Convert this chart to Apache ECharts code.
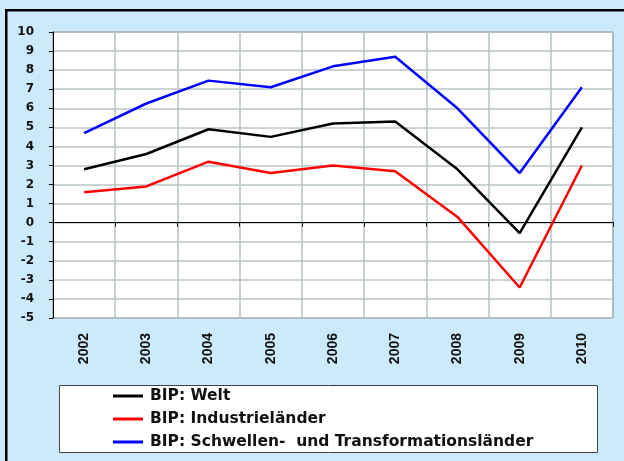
<!DOCTYPE html>
<html>
<head>
<meta charset="utf-8">
<script src="https://cdn.jsdelivr.net/npm/echarts@6/dist/echarts.min.js"></script>
<style>
  html, body { margin: 0; padding: 0; background: #cdeafc; }
  #chart { width: 624px; height: 461px; }
</style>
</head>
<body>
<div id="chart"></div>
<script>
// Jahre und BIP-Wachstum in %
const years = ['2002', '2003', '2004', '2005', '2006', '2007', '2008', '2009', '2010'];
const welt = [2.8, 3.6, 4.9, 4.5, 5.2, 5.3, 2.8, -0.55, 5.0];
const industrie = [1.6, 1.9, 3.2, 2.6, 3.0, 2.7, 0.3, -3.4, 3.0];
const schwellen = [4.7, 6.25, 7.45, 7.1, 8.2, 8.7, 6.0, 2.6, 7.1];
const names = ['BIP: Welt', 'BIP: Industrieländer', 'BIP: Schwellen-  und Transformationsländer'];

const chart = echarts.init(document.getElementById('chart'));

const wide = { fontFamily: 'DejaVu Sans, Verdana, sans-serif', fontWeight: 'bold', color: '#111' };
const narrow = { fontFamily: 'Liberation Sans, Arial, sans-serif', fontWeight: 'bold', color: '#111' };

const option = {
  backgroundColor: '#cdeafc',
  animation: false,
  grid: {
    left: 53, top: 32, right: 11, bottom: 143,
    show: true, backgroundColor: '#fff', borderColor: '#555', borderWidth: 1
  },
  xAxis: [
    {
      type: 'category', data: years, boundaryGap: true,
      axisLine: { onZero: true, lineStyle: { color: '#000', width: 1 } },
      axisTick: { show: true, length: 4, lineStyle: { color: '#000' } },
      axisLabel: { show: false },
      splitLine: { show: true, lineStyle: { color: '#b5c3c0', width: 1.5 } }
    },
    {
      // zweite Achse nur für die Beschriftung unten
      type: 'category', data: years, boundaryGap: true, position: 'bottom',
      axisLine: { show: false, onZero: false },
      axisTick: { show: false },
      splitLine: { show: false },
      axisLabel: Object.assign({ rotate: 90, fontSize: 14, margin: 15 }, narrow)
    }
  ],
  yAxis: {
    type: 'value', min: -5, max: 10, interval: 1,
    axisLine: { show: true, lineStyle: { color: '#000', width: 1 } },
    axisTick: { show: true, length: 4, lineStyle: { color: '#000' } },
    axisLabel: Object.assign({ fontSize: 12, margin: 19 }, wide),
    splitLine: { lineStyle: { color: '#b9c6c6', width: 1.5 } }
  },
  legend: {
    orient: 'vertical', left: 113, top: 388, padding: 0,
    itemWidth: 30, itemHeight: 3, itemGap: 7,
    icon: 'rect',
    textStyle: Object.assign({ fontSize: 15.5, lineHeight: 15.5, padding: [0, 0, 0, 2] }, wide),
    data: names
  },
  graphic: [
    { type: 'rect', shape: { x: 59.5, y: 385.5, width: 538, height: 67 }, style: { fill: '#fff', stroke: '#444', lineWidth: 1 }, z: -1 },
    { type: 'rect', shape: { x: 5, y: 9, width: 619, height: 2.5 }, style: { fill: '#000' } },
    { type: 'rect', shape: { x: 5, y: 9, width: 2.5, height: 452 }, style: { fill: '#000' } }
  ],
  series: [
    { name: names[0], type: 'line', data: welt, showSymbol: false, lineStyle: { color: '#000', width: 2.5 }, itemStyle: { color: '#000' } },
    { name: names[1], type: 'line', data: industrie, showSymbol: false, lineStyle: { color: '#ff0000', width: 2.5 }, itemStyle: { color: '#ff0000' } },
    { name: names[2], type: 'line', data: schwellen, showSymbol: false, lineStyle: { color: '#0000ff', width: 2.5 }, itemStyle: { color: '#0000ff' } }
  ]
};

option && chart.setOption(option);
</script>
</body>
</html>
